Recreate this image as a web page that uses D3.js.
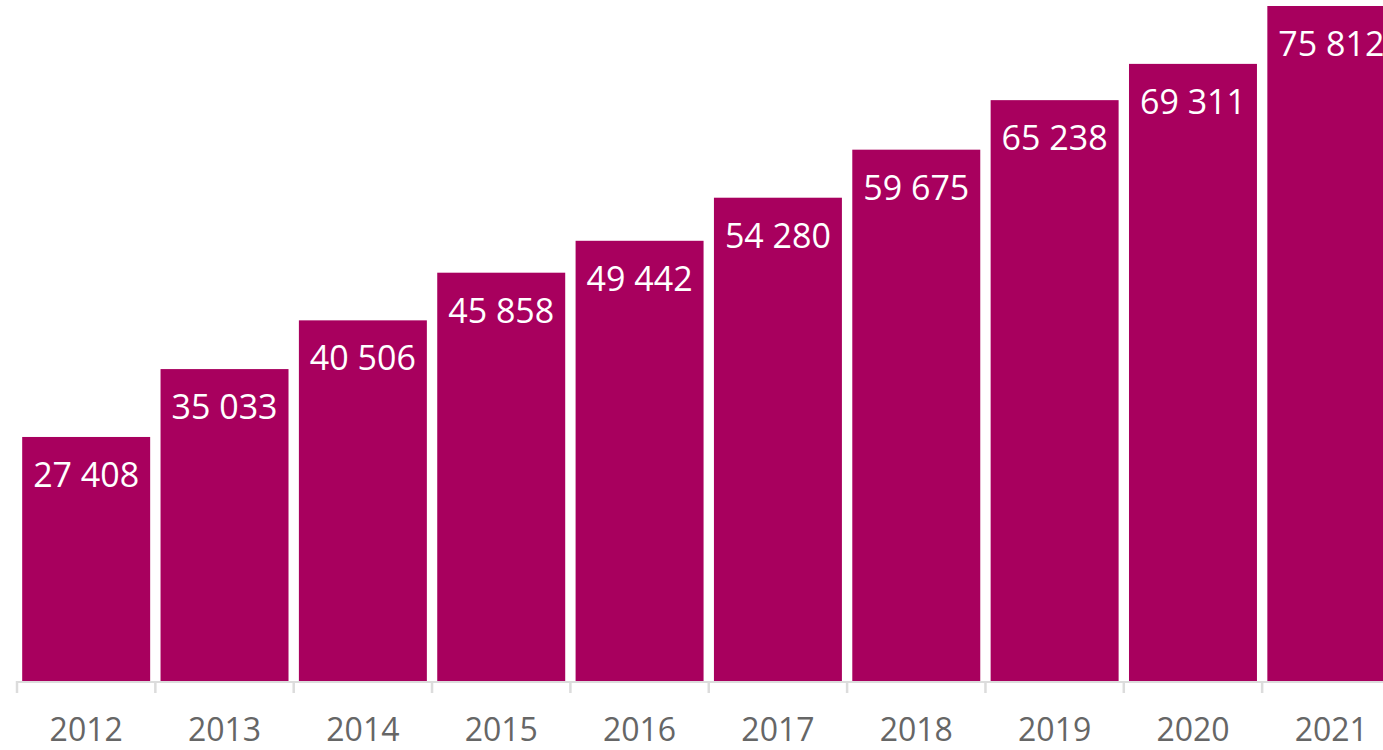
<!DOCTYPE html>
<html>
<head>
<meta charset="utf-8">
<script src="https://cdn.jsdelivr.net/npm/d3@7"></script>
<style>
  html, body { margin: 0; padding: 0; background: #fff; overflow: hidden; }
  svg { display: block; }
</style>
</head>
<body>
<svg id="chart" width="1383" height="750"></svg>
<script>
const years = ["2012","2013","2014","2015","2016","2017","2018","2019","2020","2021"];
const values = [27408, 35033, 40506, 45858, 49442, 54280, 59675, 65238, 69311, 75812];
const valueLabels = ["27 408","35 033","40 506","45 858","49 442","54 280","59 675","65 238","69 311","75 812"];

const svg = d3.select("#chart");
const baseY = 681;
const x = d3.scaleBand().domain(years).range([17, 1400.5]).paddingInner(0.075).paddingOuter(0.0375);
const y = d3.scaleLinear().domain([0, 75812]).range([baseY, 6]);

const data = years.map((yr, i) => ({ yr, v: values[i], lab: valueLabels[i] }));

svg.append("g").selectAll("rect").data(data).join("rect")
  .attr("x", d => x(d.yr))
  .attr("y", d => y(d.v))
  .attr("width", x.bandwidth())
  .attr("height", d => baseY - y(d.v))
  .attr("fill", "#a8005e");

svg.append("g").selectAll("text").data(data).join("text")
  .attr("x", d => x(d.yr) + x.bandwidth() / 2)
  .attr("y", d => y(d.v) + 50)
  .attr("text-anchor", "middle")
  .attr("fill", "#fff")
  .style("font-family", "'Open Sans', sans-serif")
  .style("font-size", "34px")
  .text(d => d.lab);

// axis
const ax = svg.append("g");
ax.append("line")
  .attr("x1", 17).attr("x2", 1400.5)
  .attr("y1", baseY + 1).attr("y2", baseY + 1)
  .attr("stroke", "#dcdcdc").attr("stroke-width", 2);
const step = x.step();
ax.selectAll("line.tick").data(years).join("line")
  .attr("class", "tick")
  .attr("x1", d => x(d) - (step - x.bandwidth()) / 2)
  .attr("x2", d => x(d) - (step - x.bandwidth()) / 2)
  .attr("y1", baseY).attr("y2", baseY + 12)
  .attr("stroke", "#dcdcdc").attr("stroke-width", 2.5);
ax.selectAll("text").data(years).join("text")
  .attr("x", d => x(d) + x.bandwidth() / 2)
  .attr("y", 741)
  .attr("text-anchor", "middle")
  .attr("fill", "#666")
  .style("font-family", "'Open Sans', sans-serif")
  .style("font-size", "32px")
  .text(d => d);
</script>
</body>
</html>
